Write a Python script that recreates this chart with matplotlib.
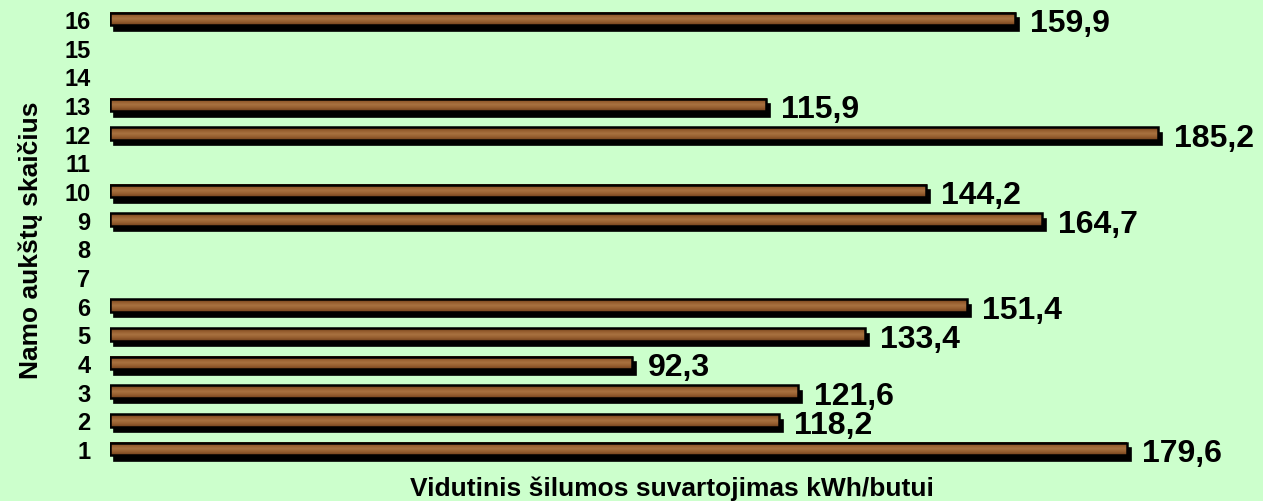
import matplotlib.pyplot as plt
import numpy as np
from matplotlib.colors import LinearSegmentedColormap
from matplotlib.patches import Rectangle

floors = [1, 2, 3, 4, 5, 6, 9, 10, 12, 13, 16]
heat = [179.6, 118.2, 121.6, 92.3, 133.4, 151.4, 164.7, 144.2, 185.2, 115.9, 159.9]
tick_labels = [str(i) for i in range(1, 17)]

plt.rcParams['font.family'] = ['Liberation Sans', 'DejaVu Sans']
bg = '#CCFFCC'

wood = LinearSegmentedColormap.from_list(
    'wood', ['#6A3A16', '#955D2E', '#A97240', '#965E30', '#74421D'])

fig = plt.figure(figsize=(12.63, 5.02), dpi=100, facecolor=bg)
ax = fig.add_axes([0.0871, 0.0693, 0.8963, 0.9251])
ax.set_facecolor(bg)
ax.set_xlim(0, 200)
ax.set_ylim(0.4, 16.6)

h = 0.44
# pixel -> data offsets for the drop shadow
dx = 4 * 200 / (0.8963 * 1263)
dy = 5.5 * 16.2 / (0.9251 * 502)
grad = np.linspace(0, 1, 32).reshape(-1, 1)

for f, v in zip(floors, heat):
    ax.add_patch(Rectangle((dx, f - h / 2 - dy), v, h, facecolor='black',
                           edgecolor='black', lw=1.2, zorder=1))
    ax.imshow(grad, cmap=wood, aspect='auto', zorder=2,
              extent=(0, v, f - h / 2, f + h / 2), interpolation='bilinear')
    ax.add_patch(Rectangle((0, f - h / 2), v, h, facecolor='none',
                           edgecolor='black', lw=1.8, zorder=3))
    ax.text(v + 2.7, f - 0.15, f"{v:.1f}".replace('.', ','), va='center',
            ha='left', fontsize=23, fontweight='bold')

ax.set_yticks(range(1, 17))
ax.set_yticklabels(tick_labels, fontsize=17, fontweight='bold')
ax.tick_params(axis='y', length=0, pad=14)
ax.set_xticks([])
for s in ax.spines.values():
    s.set_visible(False)

fig.text(0.532, 0.027, 'Vidutinis šilumos suvartojimas kWh/butui',
         ha='center', va='center', fontsize=19, fontweight='bold')
fig.text(0.024, 0.522, 'Namo aukštų skaičius', rotation=90,
         ha='center', va='center', fontsize=19, fontweight='bold')

fig.savefig('out.png', dpi=100, facecolor=bg)
